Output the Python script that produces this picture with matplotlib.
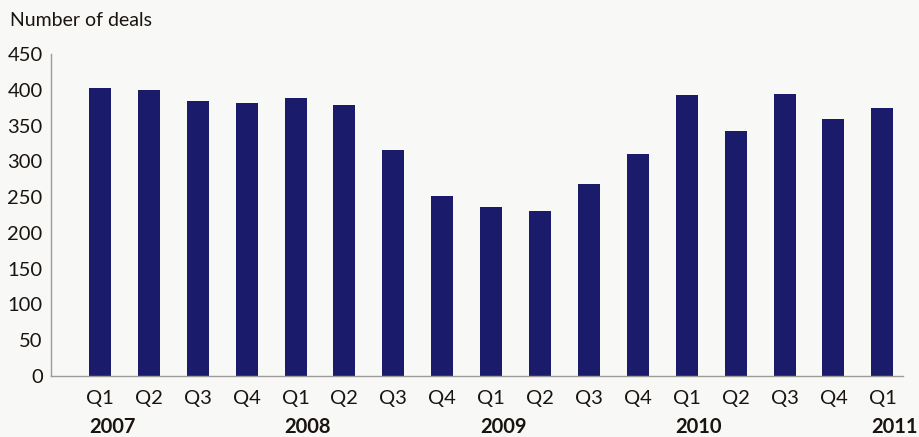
import matplotlib
matplotlib.use("Agg")
import matplotlib.pyplot as plt
import matplotlib.transforms as mtransforms

# deals per quarter, Q1 2007 .. Q1 2011
quarters = ["Q1", "Q2", "Q3", "Q4"] * 4 + ["Q1"]
deals = [403, 400, 384, 382, 388, 379, 316, 251, 236, 231, 269, 310,
         393, 343, 394, 359, 375]
years = ["2007", "2008", "2009", "2010", "2011"]
year_pos = [0, 4, 8, 12, 16]

plt.rcParams["font.family"] = ["Lato", "DejaVu Sans"]
text_color = "#1a1410"
bg = "#f8f8f6"

fig = plt.figure(figsize=(9.19, 4.37), dpi=100, facecolor=bg)
ax = fig.add_axes([0.0555, 0.1396, 0.927, 0.7368], facecolor=bg)

x = list(range(len(deals)))
ax.bar(x, deals, width=0.45, color="#1b1b6c")

ax.set_ylim(0, 450)
ax.set_xlim(-1.0, 16.42)
ax.set_yticks(range(0, 451, 50))
ax.set_xticks(x)
ax.set_xticklabels(quarters)

for side in ("top", "right"):
    ax.spines[side].set_visible(False)
ax.spines["left"].set_color("#a09a98")
ax.spines["bottom"].set_color("#a09a98")
ax.spines["left"].set_linewidth(1.0)
ax.spines["bottom"].set_linewidth(1.0)

ax.tick_params(axis="y", length=0, pad=6, labelsize=14.5, labelcolor=text_color)
ax.tick_params(axis="x", length=0, pad=10, labelsize=14.5, labelcolor=text_color)

trans = mtransforms.blended_transform_factory(ax.transData, fig.transFigure)
for pos, yr in zip(year_pos, years):
    ax.text(pos + 0.25, 1 - 427 / 437, yr, transform=trans, ha="center",
            va="center", fontsize=14.5, fontweight="bold", color=text_color,
            clip_on=False)

fig.text(10 / 919, 1 - 20 / 437, "Number of deals", ha="left", va="center",
         fontsize=14, color=text_color)

fig.savefig("out.png", dpi=100, facecolor=bg)
